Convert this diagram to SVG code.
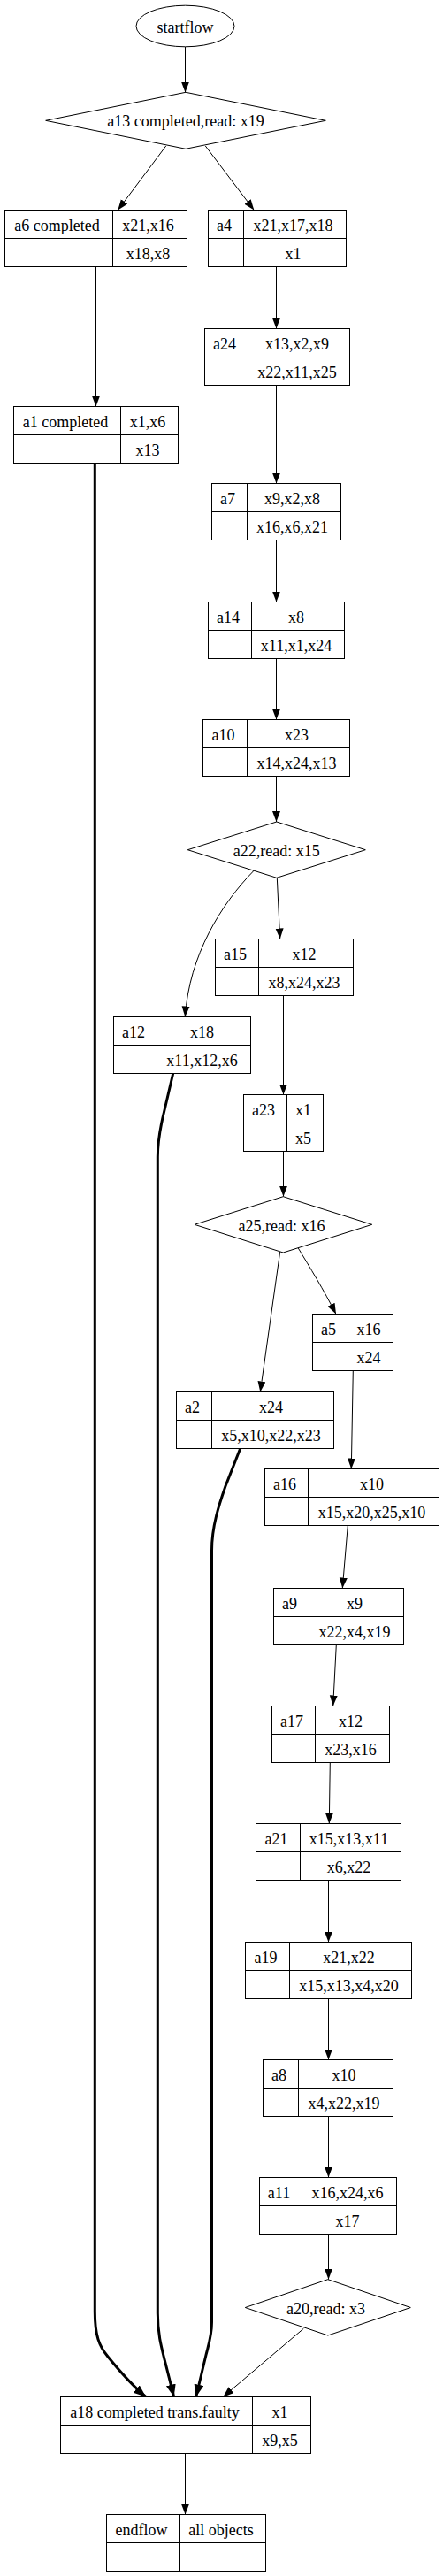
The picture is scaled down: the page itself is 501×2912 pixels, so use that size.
<svg xmlns="http://www.w3.org/2000/svg" width="501" height="2912" viewBox="0 0 501 2912">
<style>
.node rect, .node polygon, .node ellipse {fill:#fff;stroke:#000;stroke-width:1}
.node line {stroke:#000;stroke-width:1}
text {font-family:"Liberation Serif","Times New Roman",serif;font-size:18px;text-anchor:middle;fill:#000}
.edge {fill:none;stroke:#000;stroke-width:1;marker-end:url(#arr)}
.thick {fill:none;stroke:#000;stroke-width:3;marker-end:url(#arrT)}
</style>
<defs>
<marker id="arr" markerUnits="userSpaceOnUse" markerWidth="13" markerHeight="10" refX="12" refY="4.5" orient="auto"><path d="M0,0 L12,4.5 L0,9 z" fill="#000"/></marker>
<marker id="arrT" markerUnits="userSpaceOnUse" markerWidth="15" markerHeight="12" refX="14" refY="5.5" orient="auto"><path d="M0,0 L14,5.5 L0,11 z" fill="#000"/></marker>
</defs>
<rect width="501" height="2912" fill="#fff"/>
<g id="edges">
<path class="edge" d="M209.5,53 L209.5,104.5"/>
<path class="edge" d="M187.7,165 L133.3,237.5"/>
<path class="edge" d="M232.3,165 L287.3,237.5"/>
<path class="edge" d="M108.5,301.5 L108.5,459.5"/>
<path class="edge" d="M312.5,301.5 L312.5,371.5"/>
<path class="edge" d="M312.5,435.5 L312.5,546.5"/>
<path class="edge" d="M312.5,610.5 L312.5,680.5"/>
<path class="edge" d="M312.5,744.5 L312.5,813.5"/>
<path class="edge" d="M312.5,877.5 L312.5,929"/>
<path class="edge" d="M313.3,992.3 L316.7,1061.5"/>
<path class="edge" d="M287.3,984 C250,1022 214,1080 209.3,1149.5"/>
<path class="edge" d="M320.5,1125.5 L320.5,1237.5"/>
<path class="edge" d="M320.5,1301.5 L320.5,1352.7"/>
<path class="edge" d="M316.7,1415 L294.3,1573.5"/>
<path class="edge" d="M337.3,1411 C350,1432 366,1458 380,1485.5"/>
<path class="edge" d="M399.3,1549.5 L397.3,1660.5"/>
<path class="edge" d="M393.3,1724.5 L387.3,1795.5"/>
<path class="edge" d="M380.3,1859.5 L376.7,1928.5"/>
<path class="edge" d="M373.3,1992.5 L372.3,2061.5"/>
<path class="edge" d="M371.5,2125.5 L371.5,2195.5"/>
<path class="edge" d="M371.5,2259.5 L371.5,2328.5"/>
<path class="edge" d="M371.5,2392.5 L371.5,2461.5"/>
<path class="edge" d="M371.5,2525.5 L371.5,2576.7"/>
<path class="edge" d="M343.3,2632.3 L252.3,2709.5"/>
<path class="edge" d="M209.5,2773.5 L209.5,2842.5"/>
<path class="thick" d="M107.3,523.5 L107.3,2613 C107.3,2640 112,2652 122,2664 C135,2680 150,2697 165,2709.5"/>
<path class="thick" d="M195.7,1213.5 L186,1255 C181,1275 178.3,1290 178.3,1308 L178.3,2615 C178.3,2640 183,2655 188,2675 L196.7,2709.5"/>
<path class="thick" d="M271.7,1637.5 L255,1680 C248,1700 239.5,1725 239.5,1753 L239.5,2625 C239.5,2640 236,2650 233,2662 L221.7,2709.5"/>
</g>
<g id="startflow" class="node"><ellipse cx="209.5" cy="29.5" rx="55.5" ry="23.3"/><text x="209.5" y="36.5">startflow</text></g>
<g id="a13" class="node"><polygon points="210,104.3 368.3,136.3 210,168.3 51.7,136.3"/><text x="210" y="143">a13 completed,read: x19</text></g>
<g id="a6" class="node"><rect x="5.5" y="237.5" width="206" height="64"/><line x1="5.5" y1="269.5" x2="211.5" y2="269.5"/><line x1="127.5" y1="237.5" x2="127.5" y2="301.5"/><text x="64.5" y="261">a6 completed</text><text x="167.5" y="261">x21,x16</text><text x="167.5" y="293">x18,x8</text></g>
<g id="a4" class="node"><rect x="235.5" y="237.5" width="156" height="64"/><line x1="235.5" y1="269.5" x2="391.5" y2="269.5"/><line x1="275.5" y1="237.5" x2="275.5" y2="301.5"/><text x="253.5" y="261">a4</text><text x="331.5" y="261">x21,x17,x18</text><text x="331.5" y="293">x1</text></g>
<g id="a1" class="node"><rect x="15.5" y="459.5" width="186" height="64"/><line x1="15.5" y1="491.5" x2="201.5" y2="491.5"/><line x1="136.5" y1="459.5" x2="136.5" y2="523.5"/><text x="74" y="483">a1 completed</text><text x="167" y="483">x1,x6</text><text x="167" y="515">x13</text></g>
<g id="a24" class="node"><rect x="231.5" y="371.5" width="164" height="64"/><line x1="231.5" y1="403.5" x2="395.5" y2="403.5"/><line x1="280.5" y1="371.5" x2="280.5" y2="435.5"/><text x="254" y="395">a24</text><text x="336" y="395">x13,x2,x9</text><text x="336" y="427">x22,x11,x25</text></g>
<g id="a7" class="node"><rect x="239.5" y="546.5" width="146" height="64"/><line x1="239.5" y1="578.5" x2="385.5" y2="578.5"/><line x1="279.5" y1="546.5" x2="279.5" y2="610.5"/><text x="257.5" y="570">a7</text><text x="330.5" y="570">x9,x2,x8</text><text x="330.5" y="602">x16,x6,x21</text></g>
<g id="a14" class="node"><rect x="235.5" y="680.5" width="154" height="64"/><line x1="235.5" y1="712.5" x2="389.5" y2="712.5"/><line x1="284.5" y1="680.5" x2="284.5" y2="744.5"/><text x="258" y="704">a14</text><text x="335" y="704">x8</text><text x="335" y="736">x11,x1,x24</text></g>
<g id="a10" class="node"><rect x="229.5" y="813.5" width="166" height="64"/><line x1="229.5" y1="845.5" x2="395.5" y2="845.5"/><line x1="279.5" y1="813.5" x2="279.5" y2="877.5"/><text x="252.5" y="837">a10</text><text x="335.5" y="837">x23</text><text x="335.5" y="869">x14,x24,x13</text></g>
<g id="a22" class="node"><polygon points="312.8,929 413.3,960.7 312.8,992.3 212.3,960.7"/><text x="312.8" y="967.5">a22,read: x15</text></g>
<g id="a15" class="node"><rect x="243.5" y="1061.5" width="156" height="64"/><line x1="243.5" y1="1093.5" x2="399.5" y2="1093.5"/><line x1="292.5" y1="1061.5" x2="292.5" y2="1125.5"/><text x="266" y="1085">a15</text><text x="344" y="1085">x12</text><text x="344" y="1117">x8,x24,x23</text></g>
<g id="a12" class="node"><rect x="128.5" y="1149.5" width="155" height="64"/><line x1="128.5" y1="1181.5" x2="283.5" y2="1181.5"/><line x1="177.5" y1="1149.5" x2="177.5" y2="1213.5"/><text x="151" y="1173">a12</text><text x="228.5" y="1173">x18</text><text x="228.5" y="1205">x11,x12,x6</text></g>
<g id="a23" class="node"><rect x="275.5" y="1237.5" width="90" height="64"/><line x1="275.5" y1="1269.5" x2="365.5" y2="1269.5"/><line x1="324.5" y1="1237.5" x2="324.5" y2="1301.5"/><text x="298" y="1261">a23</text><text x="343" y="1261">x1</text><text x="343" y="1293">x5</text></g>
<g id="a25" class="node"><polygon points="320.3,1352.7 420.7,1384.3 320.3,1416 220,1384.3"/><text x="318.5" y="1391.5">a25,read: x16</text></g>
<g id="a5" class="node"><rect x="353.5" y="1485.5" width="91" height="64"/><line x1="353.5" y1="1517.5" x2="444.5" y2="1517.5"/><line x1="393.5" y1="1485.5" x2="393.5" y2="1549.5"/><text x="371.5" y="1509">a5</text><text x="417" y="1509">x16</text><text x="417" y="1541">x24</text></g>
<g id="a2" class="node"><rect x="199.5" y="1573.5" width="178" height="64"/><line x1="199.5" y1="1605.5" x2="377.5" y2="1605.5"/><line x1="239.5" y1="1573.5" x2="239.5" y2="1637.5"/><text x="217.5" y="1597">a2</text><text x="306.5" y="1597">x24</text><text x="306.5" y="1629">x5,x10,x22,x23</text></g>
<g id="a16" class="node"><rect x="299.5" y="1660.5" width="197" height="64"/><line x1="299.5" y1="1692.5" x2="496.5" y2="1692.5"/><line x1="348.5" y1="1660.5" x2="348.5" y2="1724.5"/><text x="322" y="1684">a16</text><text x="420.5" y="1684">x10</text><text x="420.5" y="1716">x15,x20,x25,x10</text></g>
<g id="a9" class="node"><rect x="309.5" y="1795.5" width="147" height="64"/><line x1="309.5" y1="1827.5" x2="456.5" y2="1827.5"/><line x1="349.5" y1="1795.5" x2="349.5" y2="1859.5"/><text x="327.5" y="1819">a9</text><text x="401" y="1819">x9</text><text x="401" y="1851">x22,x4,x19</text></g>
<g id="a17" class="node"><rect x="307.5" y="1928.5" width="133" height="64"/><line x1="307.5" y1="1960.5" x2="440.5" y2="1960.5"/><line x1="356.5" y1="1928.5" x2="356.5" y2="1992.5"/><text x="330" y="1952">a17</text><text x="396.5" y="1952">x12</text><text x="396.5" y="1984">x23,x16</text></g>
<g id="a21" class="node"><rect x="289.5" y="2061.5" width="164" height="64"/><line x1="289.5" y1="2093.5" x2="453.5" y2="2093.5"/><line x1="339.5" y1="2061.5" x2="339.5" y2="2125.5"/><text x="312.5" y="2085">a21</text><text x="394.5" y="2085">x15,x13,x11</text><text x="394.5" y="2117">x6,x22</text></g>
<g id="a19" class="node"><rect x="277.5" y="2195.5" width="188" height="64"/><line x1="277.5" y1="2227.5" x2="465.5" y2="2227.5"/><line x1="327.5" y1="2195.5" x2="327.5" y2="2259.5"/><text x="300.5" y="2219">a19</text><text x="394.5" y="2219">x21,x22</text><text x="394.5" y="2251">x15,x13,x4,x20</text></g>
<g id="a8" class="node"><rect x="297.5" y="2328.5" width="147" height="64"/><line x1="297.5" y1="2360.5" x2="444.5" y2="2360.5"/><line x1="337.5" y1="2328.5" x2="337.5" y2="2392.5"/><text x="315.5" y="2352">a8</text><text x="389" y="2352">x10</text><text x="389" y="2384">x4,x22,x19</text></g>
<g id="a11" class="node"><rect x="293.5" y="2461.5" width="155" height="64"/><line x1="293.5" y1="2493.5" x2="448.5" y2="2493.5"/><line x1="341.5" y1="2461.5" x2="341.5" y2="2525.5"/><text x="315.5" y="2485">a11</text><text x="393" y="2485">x16,x24,x6</text><text x="393" y="2517">x17</text></g>
<g id="a20" class="node"><polygon points="370.8,2576.7 464.3,2608.5 370.8,2640 277.3,2608.5"/><text x="368.5" y="2615.5">a20,read: x3</text></g>
<g id="a18" class="node"><rect x="68.5" y="2709.5" width="283" height="64"/><line x1="68.5" y1="2741.5" x2="351.5" y2="2741.5"/><line x1="285.5" y1="2709.5" x2="285.5" y2="2773.5"/><text x="175" y="2733">a18 completed trans.faulty</text><text x="316.5" y="2733">x1</text><text x="316.5" y="2765">x9,x5</text></g>
<g id="endflow" class="node"><rect x="120.5" y="2842.5" width="180" height="64"/><line x1="120.5" y1="2874.5" x2="300.5" y2="2874.5"/><line x1="203.5" y1="2842.5" x2="203.5" y2="2906.5"/><text x="160" y="2866">endflow</text><text x="250" y="2866">all objects</text></g>
</svg>
